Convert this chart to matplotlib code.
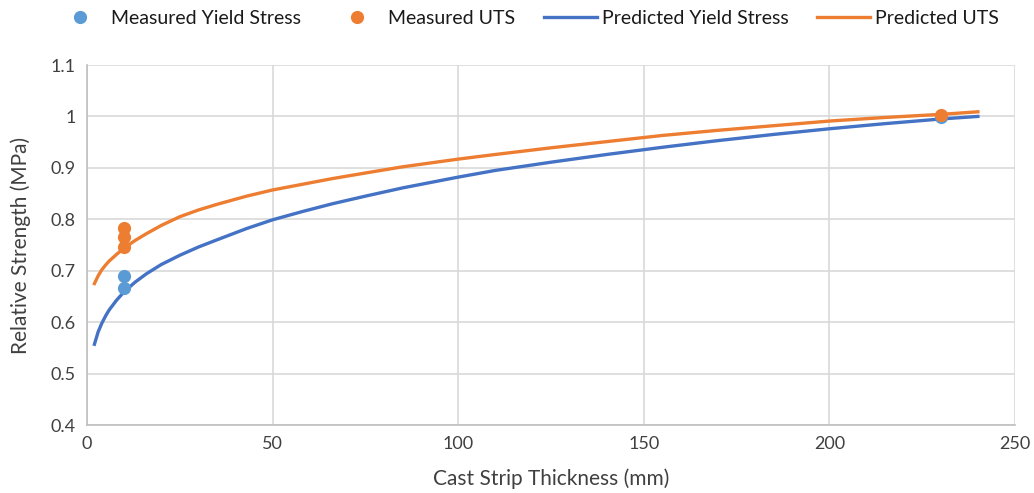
import matplotlib
matplotlib.use("Agg")
import matplotlib.pyplot as plt

plt.rcParams['font.family'] = ['Lato', 'DejaVu Sans']

# Measured data
meas_x_ys = [10, 10, 230]
meas_ys = [0.690, 0.666, 0.998]
meas_x_uts = [10, 10, 10, 230]
meas_uts = [0.783, 0.765, 0.746, 1.002]

# Predicted curves
pred_x = [2, 3, 4, 5, 6, 8, 10, 13, 16, 20, 25, 30, 35, 43, 50, 58, 66, 75, 85,
          100, 110, 125, 140, 155, 170, 185, 200, 215, 230, 240]
pred_ys = [0.557, 0.581, 0.598, 0.612, 0.624, 0.643, 0.659, 0.678, 0.694, 0.712,
           0.730, 0.746, 0.760, 0.782, 0.799, 0.815, 0.830, 0.845, 0.861,
           0.882, 0.895, 0.911, 0.926, 0.940, 0.953, 0.965, 0.976, 0.986, 0.995, 1.000]
pred_uts = [0.675, 0.690, 0.702, 0.711, 0.719, 0.732, 0.744, 0.759, 0.772, 0.788,
            0.805, 0.818, 0.829, 0.845, 0.857, 0.868, 0.879, 0.890, 0.902,
            0.917, 0.926, 0.939, 0.951, 0.963, 0.973, 0.982, 0.991, 0.998, 1.004, 1.009]

fig = plt.figure(figsize=(10.34, 4.93), dpi=100)
ax = fig.add_axes([87/1034, 1 - 425/493, (1015-87)/1034, (425-65)/493])

c_blue_m = '#5B9BD5'
c_orange = '#ED7D31'
c_blue_l = '#4472C4'

l3, = ax.plot(pred_x, pred_ys, color=c_blue_l, lw=2.4, zorder=3, label='Predicted Yield Stress')
l4, = ax.plot(pred_x, pred_uts, color=c_orange, lw=2.4, zorder=3, label='Predicted UTS')
s1, = ax.plot(meas_x_ys, meas_ys, 'o', color=c_blue_m, ms=9.5, mec='none', zorder=4, label='Measured Yield Stress')
s2, = ax.plot(meas_x_uts, meas_uts, 'o', color=c_orange, ms=9.5, mec='none', zorder=4, label='Measured UTS')

ax.set_xlim(0, 250)
ax.set_ylim(0.4, 1.1)
ax.set_xticks([0, 50, 100, 150, 200, 250])
ax.set_yticks([0.4, 0.5, 0.6, 0.7, 0.8, 0.9, 1.0, 1.1])
ax.set_yticklabels(['0.4', '0.5', '0.6', '0.7', '0.8', '0.9', '1', '1.1'])
ax.grid(True, color='#D9D9D9', lw=1.2, zorder=0)
ax.set_axisbelow(True)
for s in ['top', 'right']:
    ax.spines[s].set_visible(False)
for s in ['left', 'bottom']:
    ax.spines[s].set_color('#BFBFBF')
    ax.spines[s].set_linewidth(1.2)
ax.tick_params(length=0, labelsize=13, colors='#404040', pad=8)
ax.set_xlabel('Cast Strip Thickness (mm)', fontsize=15, color='#404040', labelpad=12)
ax.set_ylabel('Relative Strength (MPa)', fontsize=15, color='#404040', labelpad=14)

fig.legend(handles=[s1, s2, l3, l4], loc='center', bbox_to_anchor=(0.509, 1 - 18/493), ncol=4,
           frameon=False, fontsize=14, handlelength=2.7, columnspacing=1.5, handletextpad=0.25,
           labelcolor='#1a1a1a')

fig.savefig('out.png', dpi=100)
